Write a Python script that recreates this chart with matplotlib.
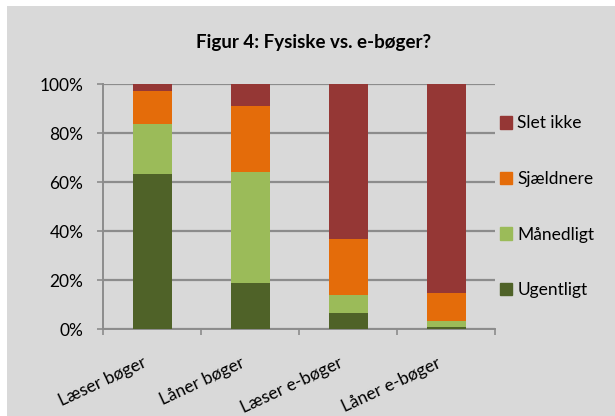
import numpy as np
import matplotlib.pyplot as plt
import matplotlib.transforms as mtrans
from matplotlib.patches import Patch, Rectangle

plt.rcParams['font.family'] = ['Lato', 'DejaVu Sans']

kategorier = ['Læser bøger', 'Låner bøger', 'Læser e-bøger', 'Låner e-bøger']
ugentligt = [63.3, 19.0, 6.5, 1.1]
maanedligt = [20.6, 45.2, 7.5, 2.4]
sjaeldnere = [13.4, 27.1, 22.9, 11.3]
slet_ikke = [2.7, 8.7, 63.1, 85.2]

serier = ['Ugentligt', 'Månedligt', 'Sjældnere', 'Slet ikke']
farver = ['#4F6228', '#9BBB59', '#E46C0A', '#953735']
bg = '#D9D9D9'
grid = '#8C8C8C'

fig = plt.figure(figsize=(6.15, 4.16), dpi=100, facecolor='white')
# grå baggrund med lille hvid kant oppe til venstre
fig.patches.append(Rectangle((7 / 615, 0), 1, 1 - 6 / 416, transform=fig.transFigure,
                             facecolor=bg, edgecolor='none', zorder=-10))

ax = fig.add_axes([0.168, 0.2084, 0.637, 0.589], facecolor=bg)

x = np.arange(len(kategorier))
bund = np.zeros(len(kategorier))
for navn, vals, f in zip(serier, [ugentligt, maanedligt, sjaeldnere, slet_ikke], farver):
    ax.bar(x, vals, bottom=bund, width=0.4, color=f, label=navn, zorder=3)
    bund += np.array(vals)

ax.set_xlim(-0.5, 3.5)
ax.set_ylim(0, 100)
ax.set_yticks(range(0, 101, 20))
ax.set_yticklabels([f'{v}%' for v in range(0, 101, 20)], fontsize=12.5)
ax.yaxis.grid(True, color=grid, linewidth=1.6, zorder=0)
ax.tick_params(axis='y', length=4.3, color=grid, width=1.2, pad=10)

ax.set_xticks(x)
ax.set_xticklabels(kategorier, rotation=25, ha='right', rotation_mode='anchor', fontsize=12.5)
ax.set_xticks(np.arange(-0.5, 4, 1), minor=True)
ax.tick_params(axis='x', which='major', length=0, pad=14)
ax.tick_params(axis='x', which='minor', length=4.3, color=grid, width=1.2)
forskyd = mtrans.ScaledTranslation(-0.10, -0.06, fig.dpi_scale_trans)
for lbl in ax.get_xticklabels():
    lbl.set_transform(lbl.get_transform() + forskyd)

for s in ['top', 'right']:
    ax.spines[s].set_visible(False)
for s in ['left', 'bottom']:
    ax.spines[s].set_color(grid)
    ax.spines[s].set_linewidth(1.4)

fig.text(0.51, 0.899, 'Figur 4: Fysiske vs. e-bøger?', ha='center', va='center',
         fontsize=13.5, fontweight='bold')

handles = [Patch(color=f, label=n) for n, f in zip(serier, farver)][::-1]
fig.legend(handles=handles, loc='upper left', bbox_to_anchor=(0.787, 0.76),
           frameon=False, fontsize=12.5, handlelength=0.73, handleheight=0.73,
           handletextpad=0.29, labelspacing=2.28)

fig.savefig('out.png', dpi=100, facecolor='white')
